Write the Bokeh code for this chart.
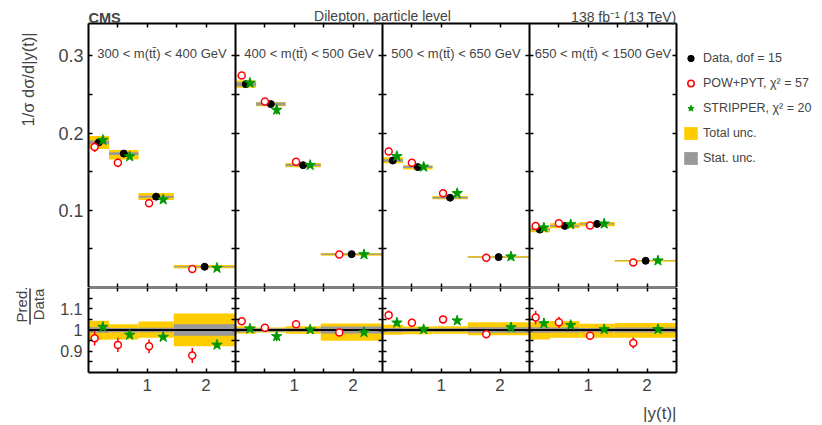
import numpy as np
from bokeh.plotting import figure
from bokeh.layouts import column
from bokeh.models import (Range1d, LinearAxis, FixedTicker, Label, Legend,
                          LegendItem, Arrow, ColumnDataSource)
from bokeh.embed import file_html
from bokeh.resources import INLINE

FONT = "Liberation Sans"

# ---------------- data ----------------
bin_edges = [0.0, 0.35, 0.85, 1.45, 2.5]
mtt_bins = ["300 < m(tt\u0304) < 400 GeV", "400 < m(tt\u0304) < 500 GeV",
            "500 < m(tt\u0304) < 650 GeV", "650 < m(tt\u0304) < 1500 GeV"]

data_vals = [[0.1880, 0.1735, 0.1177, 0.0269],
             [0.2634, 0.2376, 0.1585, 0.0432],
             [0.1645, 0.1560, 0.1163, 0.0394],
             [0.0750, 0.0798, 0.0824, 0.0346]]

pow_vals = [[0.1820, 0.1615, 0.1090, 0.0239],
            [0.2746, 0.2410, 0.1628, 0.0428],
            [0.1761, 0.1615, 0.1220, 0.0385],
            [0.0798, 0.0832, 0.0802, 0.0325]]
pow_ratio = [[0.961, 0.930, 0.923, 0.880],
             [1.041, 1.011, 1.027, 0.988],
             [1.070, 1.034, 1.050, 0.980],
             [1.059, 1.037, 0.973, 0.939]]
pow_err = [[0.035, 0.036, 0.035, 0.040],
           [0.010, 0.010, 0.008, 0.010],
           [0.020, 0.018, 0.010, 0.012],
           [0.030, 0.025, 0.020, 0.028]]

str_vals = [[0.1910, 0.1697, 0.1138, 0.0253],
            [0.2650, 0.2300, 0.1585, 0.0428],
            [0.1700, 0.1563, 0.1220, 0.0400],
            [0.0775, 0.0817, 0.0826, 0.0348]]
str_ratio = [[1.014, 0.977, 0.967, 0.930],
             [1.006, 0.970, 1.002, 0.989],
             [1.034, 1.003, 1.044, 1.012],
             [1.031, 1.023, 1.003, 1.003]]
str_err = [[0.012, 0.010, 0.010, 0.010],
           [0.010, 0.024, 0.010, 0.010],
           [0.010, 0.010, 0.010, 0.010],
           [0.010, 0.010, 0.010, 0.010]]

tot_up = [[0.044, 0.027, 0.040, 0.078],
          [0.018, 0.012, 0.018, 0.031],
          [0.025, 0.016, 0.018, 0.037],
          [0.037, 0.042, 0.030, 0.033]]
tot_dn = [[0.046, 0.045, 0.036, 0.077],
          [0.018, 0.012, 0.018, 0.050],
          [0.022, 0.020, 0.018, 0.025],
          [0.045, 0.037, 0.037, 0.037]]
stat_unc = [[0.013, 0.010, 0.011, 0.027],
            [0.010, 0.008, 0.008, 0.016],
            [0.010, 0.008, 0.008, 0.013],
            [0.013, 0.012, 0.010, 0.012]]

legend_labels = ["Data, dof = 15", "POW+PYT, \u03c7\u00b2 = 57",
                 "STRIPPER, \u03c7\u00b2 = 20", "Total unc.", "Stat. unc."]

y_ticks = [0.1, 0.2, 0.3]
y_minor = [0.05, 0.15, 0.25]
r_ticks = [0.9, 1.0, 1.1]
r_minor = [0.85, 0.95, 1.05, 1.15]
r_labels = ["0.9", "1", "1.1"]
x_ticks_local = [1.0, 2.0]
x_minor_local = [0.5, 1.5]

Y_RANGE = (0.0, 0.342)
R_RANGE = (0.8, 1.2)

YELLOW = "#ffcc00"
GRAY = "#999999"
RED = "#ff0000"
GREEN = "#009900"

# ---------------- page geometry (pixels) ----------------
W = 822
FL, FR = 88, 676          # left / right edge of the plotting boxes
TOP_T, TOP_B = 23, 287    # top box, top and bottom edges
RAT_B = 372               # ratio box bottom edge
H_TOTAL = 424

n_panels = len(mtt_bins)
span_w = bin_edges[-1]
X_END = n_panels * span_w

SX = (FR - FL) / X_END
SY_T = (TOP_B - TOP_T) / (Y_RANGE[1] - Y_RANGE[0])
SY_R = (RAT_B - TOP_B) / (R_RANGE[1] - R_RANGE[0])

XV = (-FL / SX, X_END + (W - FR) / SX)
YV_T = (Y_RANGE[0], Y_RANGE[1] + TOP_T / SY_T)
YV_R = (R_RANGE[0] - (H_TOTAL - RAT_B) / SY_R, R_RANGE[1])


def px_x(px):
    return (px - FL) / SX


def px_yt(py):
    return Y_RANGE[0] + (TOP_B - py) / SY_T


def px_yr(py):
    return R_RANGE[0] + (RAT_B - py) / SY_R


# ---------------- build flat columns ----------------
cols = {k: [] for k in ["lo", "hi", "xc", "xp", "xs", "d", "pv", "sv", "pr", "sr",
                        "t_top", "t_bot", "s_top", "s_bot",
                        "rt_top", "rt_bot", "rs_top", "rs_bot",
                        "pe_lo", "pe_hi", "se_lo", "se_hi",
                        "rpe_lo", "rpe_hi", "rse_lo", "rse_hi"]}
for i in range(n_panels):
    off = i * span_w
    for j in range(len(bin_edges) - 1):
        lo = off + bin_edges[j]
        hi = off + bin_edges[j + 1]
        w = hi - lo
        c = 0.5 * (lo + hi)
        d = data_vals[i][j]
        pv, sv = pow_vals[i][j], str_vals[i][j]
        pr, sr = pow_ratio[i][j], str_ratio[i][j]
        cols["lo"].append(lo); cols["hi"].append(hi)
        cols["xc"].append(c); cols["xp"].append(c - 0.2 * w); cols["xs"].append(c + 0.2 * w)
        cols["d"].append(d); cols["pv"].append(pv); cols["sv"].append(sv)
        cols["pr"].append(pr); cols["sr"].append(sr)
        cols["t_top"].append(d * (1 + tot_up[i][j])); cols["t_bot"].append(d * (1 - tot_dn[i][j]))
        cols["s_top"].append(d * (1 + stat_unc[i][j])); cols["s_bot"].append(d * (1 - stat_unc[i][j]))
        cols["rt_top"].append(1 + tot_up[i][j]); cols["rt_bot"].append(1 - tot_dn[i][j])
        cols["rs_top"].append(1 + stat_unc[i][j]); cols["rs_bot"].append(1 - stat_unc[i][j])
        cols["pe_lo"].append(pv * (1 - pow_err[i][j])); cols["pe_hi"].append(pv * (1 + pow_err[i][j]))
        cols["se_lo"].append(sv * (1 - str_err[i][j])); cols["se_hi"].append(sv * (1 + str_err[i][j]))
        cols["rpe_lo"].append(pr * (1 - pow_err[i][j])); cols["rpe_hi"].append(pr * (1 + pow_err[i][j]))
        cols["rse_lo"].append(sr * (1 - str_err[i][j])); cols["rse_hi"].append(sr * (1 + str_err[i][j]))
src = ColumnDataSource(cols)


# ---------------- helpers ----------------
def make_fig(yv, fh):
    p = figure(x_range=Range1d(*XV), y_range=Range1d(*yv),
               frame_width=W, frame_height=fh,
               min_border_left=0, min_border_right=0,
               min_border_top=0, min_border_bottom=0,
               x_axis_location=None, y_axis_location=None,
               toolbar_location=None, output_backend="svg")
    p.xgrid.visible = False
    p.ygrid.visible = False
    p.outline_line_color = None
    p.background_fill_color = "white"
    p.border_fill_color = "white"
    return p


def add_axis(p, side, fixed, bounds, ticks=(), minor=(), both=False,
             overrides=None, font_size="17px", standoff=5):
    out = 4 if both else 0
    ax = LinearAxis(ticker=FixedTicker(ticks=list(ticks), minor_ticks=list(minor)),
                    fixed_location=fixed, bounds=bounds,
                    major_tick_in=4, major_tick_out=out,
                    minor_tick_in=4, minor_tick_out=out,
                    axis_line_width=2, axis_line_color="black",
                    major_tick_line_width=1.5, minor_tick_line_width=1.5,
                    major_label_text_font=FONT,
                    major_label_text_font_size=font_size,
                    major_label_standoff=standoff)
    if overrides:
        ax.major_label_overrides = overrides
    p.add_layout(ax, side)
    return ax


x_all_minor, x_major, x_minor_only, x_over = [], [], [], {}
for i in range(n_panels):
    off = i * span_w
    x_all_minor += [off + t for t in x_minor_local + x_ticks_local]
    x_minor_only += [off + t for t in x_minor_local]
    for t in x_ticks_local:
        x_major.append(off + t)
        x_over[off + t] = "%g" % t

XB = (0, X_END)

# ---------------- top panel ----------------
top = make_fig(YV_T, TOP_B)
r_tot = top.quad(left="lo", right="hi", bottom="t_bot", top="t_top", source=src,
                 fill_color=YELLOW, line_color=None)
r_stat = top.quad(left="lo", right="hi", bottom="s_bot", top="s_top", source=src,
                  fill_color=GRAY, line_color=None)
top.segment(x0="xp", x1="xp", y0="pe_lo", y1="pe_hi", source=src, line_color=RED, line_width=1.5)
top.segment(x0="xs", x1="xs", y0="se_lo", y1="se_hi", source=src, line_color=GREEN, line_width=1.5)
r_data = top.scatter(x="xc", y="d", source=src, marker="circle", size=7,
                     fill_color="black", line_color="black")
r_pow = top.scatter(x="xp", y="pv", source=src, marker="circle", size=7,
                    fill_color="white", line_color=RED, line_width=1.5)
r_str = top.scatter(x="xs", y="sv", source=src, marker="star", size=11,
                    fill_color=GREEN, line_color=GREEN)

add_axis(top, "left", 0, Y_RANGE, y_ticks, y_minor, font_size="18px", standoff=5,
         overrides={t: "%g" % t for t in y_ticks})
add_axis(top, "right", X_END, Y_RANGE, (), y_ticks + y_minor)
for i in range(1, n_panels):
    add_axis(top, "right", i * span_w, Y_RANGE, (), y_ticks + y_minor, both=True)
add_axis(top, "above", Y_RANGE[1], XB, (), x_all_minor)
add_axis(top, "below", Y_RANGE[0], XB, (), x_all_minor)

for i, txt in enumerate(mtt_bins):
    top.add_layout(Label(x=i * span_w + span_w / 2, y=Y_RANGE[1], y_offset=-30,
                         text=txt, text_align="center", text_baseline="alphabetic",
                         text_font=FONT, text_font_size="13px"))

top.add_layout(Label(x=0, y=Y_RANGE[1], y_offset=6, text="CMS", text_font=FONT,
                     text_font_style="bold", text_font_size="14.5px",
                     text_align="left", text_baseline="alphabetic"))
top.add_layout(Label(x=X_END / 2, y=Y_RANGE[1], y_offset=8, text="Dilepton, particle level",
                     text_font=FONT, text_font_size="14px",
                     text_align="center", text_baseline="alphabetic"))
top.add_layout(Label(x=X_END, y=Y_RANGE[1], y_offset=7, text="138 fb\u207b\u00b9 (13 TeV)",
                     text_font=FONT, text_font_size="14px",
                     text_align="right", text_baseline="alphabetic"))
top.add_layout(Label(x=px_x(27), y=px_yt(79), text="1/\u03c3 d\u03c3/d|y(t)|",
                     angle=np.pi / 2, text_align="center", text_baseline="middle",
                     text_font=FONT, text_font_size="16.5px"))

legend = Legend(items=[LegendItem(label=legend_labels[0], renderers=[r_data]),
                       LegendItem(label=legend_labels[1], renderers=[r_pow]),
                       LegendItem(label=legend_labels[2], renderers=[r_str]),
                       LegendItem(label=legend_labels[3], renderers=[r_tot]),
                       LegendItem(label=legend_labels[4], renderers=[r_stat])],
                location=(682, TOP_B - 166), orientation="vertical",
                glyph_width=17, glyph_height=16, label_height=16, label_width=20,
                label_standoff=4, spacing=9, padding=0, margin=0,
                border_line_color=None, background_fill_alpha=0,
                label_text_font=FONT, label_text_font_size="12.5px")
top.add_layout(legend)

# ---------------- ratio panel ----------------
rat = make_fig(YV_R, H_TOTAL - TOP_B)
rat.quad(left="lo", right="hi", bottom="rt_bot", top="rt_top", source=src,
         fill_color=YELLOW, line_color=None)
rat.quad(left="lo", right="hi", bottom="rs_bot", top="rs_top", source=src,
         fill_color=GRAY, line_color=None)
rat.line(x=list(XB), y=[1.0, 1.0], line_color="black", line_width=2)
rat.segment(x0="xp", x1="xp", y0="rpe_lo", y1="rpe_hi", source=src, line_color=RED, line_width=1.5)
rat.segment(x0="xs", x1="xs", y0="rse_lo", y1="rse_hi", source=src, line_color=GREEN, line_width=1.5)
rat.scatter(x="xp", y="pr", source=src, marker="circle", size=7,
            fill_color="white", line_color=RED, line_width=1.5)
rat.scatter(x="xs", y="sr", source=src, marker="star", size=11,
            fill_color=GREEN, line_color=GREEN)

add_axis(rat, "left", 0, R_RANGE, r_ticks, r_minor, font_size="16px", standoff=6,
         overrides=dict(zip(r_ticks, r_labels)))
add_axis(rat, "right", X_END, R_RANGE, (), r_ticks + r_minor)
for i in range(1, n_panels):
    add_axis(rat, "right", i * span_w, R_RANGE, (), r_ticks + r_minor, both=True)
add_axis(rat, "above", R_RANGE[1], XB, (), x_all_minor)
add_axis(rat, "below", R_RANGE[0], XB, x_major, x_minor_only, font_size="17px", standoff=6,
         overrides=x_over)

rat.add_layout(Label(x=px_x(21), y=px_yr(304), text="Pred.",
                     angle=np.pi / 2, text_align="center", text_baseline="middle",
                     text_font=FONT, text_font_size="15px"))
rat.add_layout(Label(x=px_x(38), y=px_yr(304), text="Data",
                     angle=np.pi / 2, text_align="center", text_baseline="middle",
                     text_font=FONT, text_font_size="15px"))
rat.add_layout(Arrow(x_start=px_x(29.5), y_start=px_yr(288), x_end=px_x(29.5), y_end=px_yr(324),
                     start=None, end=None, line_color="black", line_width=1.2))
rat.add_layout(Label(x=X_END, y=R_RANGE[0], y_offset=-41, text="|y(t)|",
                     text_align="right", text_baseline="alphabetic",
                     text_font=FONT, text_font_size="17px"))

layout = column(top, rat, spacing=0)
open("out.html", "w").write(file_html(layout, INLINE))
